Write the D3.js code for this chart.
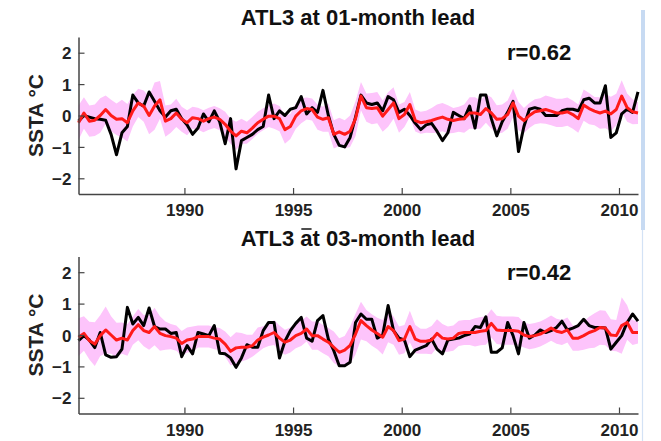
<!DOCTYPE html>
<html><head><meta charset="utf-8">
<script src="https://cdn.jsdelivr.net/npm/d3@7"></script>
<style>
html,body{margin:0;padding:0;background:#fff;}
svg{display:block;font-family:"Liberation Sans",Arial,sans-serif;font-weight:bold;}
</style></head>
<body><svg id="c" width="661" height="441"></svg>
<script>
// time axis: seasonal (3-month) steps
const startYear = 1985.125, stepYear = 0.25;
const xTicks = [1990, 1995, 2000, 2005, 2010];
const yTicks = [-2, -1, 0, 1, 2];
const titles = ["ATL3 at 01-month lead", "ATL3 at 03-month lead"];
const rLabels = ["r=0.62", "r=0.42"];

const topObs = [-0.18,0.0,-0.05,-0.1,-0.12,-0.15,-0.6,-1.25,-0.55,-0.35,
 0.65,0.4,0.3,0.75,0.45,0.15,-0.05,0.15,0.2,-0.1,
 -0.3,-0.6,-0.4,0.05,-0.2,0.15,-0.2,-0.9,-0.1,-1.7,
 -0.8,-0.7,-0.6,-0.45,-0.35,0.65,-0.1,0.15,0.0,0.2,
 0.25,0.6,0.05,0.25,0.1,0.8,0.0,-0.6,-0.95,-1.0,
 -0.7,-0.05,0.65,0.4,0.35,0.4,0.15,0.6,0.5,0.1,
 0.2,0.0,-0.25,-0.45,-0.3,-0.25,-0.5,-0.8,-0.55,0.1,
 0.0,-0.1,0.3,-0.4,0.65,0.65,-0.1,-0.65,-0.2,0.1,
 0.45,-1.15,-0.35,0.2,0.25,0.2,0.0,0.0,0.0,0.15,
 0.2,0.2,0.15,0.5,0.55,0.4,0.4,0.95,-0.7,-0.55,
 0.05,0.2,0.1,0.75];
const topPred = [-0.23,0.08,-0.18,-0.15,0.0,0.19,0.0,-0.12,-0.1,-0.23,
 0.15,0.4,0.3,0.0,0.3,0.5,-0.18,-0.1,0.08,-0.12,
 -0.23,-0.07,-0.1,-0.18,-0.1,-0.05,-0.12,-0.28,-0.5,-0.65,
 -0.5,-0.55,-0.4,-0.23,-0.12,-0.02,-0.02,-0.1,-0.45,-0.35,
 -0.02,0.15,0.22,0.19,-0.05,-0.12,-0.07,-0.6,-0.52,-0.6,
 -0.5,-0.1,0.62,0.25,0.22,0.25,-0.02,0.19,0.4,-0.1,
 0.03,0.35,-0.16,-0.23,-0.2,-0.16,-0.1,-0.05,-0.12,-0.16,
 -0.12,-0.1,0.08,0.08,0.03,0.22,0.08,-0.12,-0.1,0.03,
 0.4,-0.02,-0.16,0.0,0.12,0.15,0.19,0.14,0.08,0.08,
 0.12,0.03,-0.1,0.33,0.22,0.14,0.08,0.14,0.05,0.19,
 0.62,0.25,0.12,0.08];
const topSpread = [0.55,0.5,0.5,0.5,0.55,0.45,0.5,0.5,0.6,0.6,
 0.5,0.45,0.5,0.6,0.75,0.6,0.5,0.45,0.45,0.4,
 0.4,0.35,0.35,0.35,0.35,0.35,0.35,0.4,0.4,0.45,
 0.4,0.35,0.35,0.35,0.35,0.35,0.4,0.4,0.45,0.4,
 0.4,0.4,0.35,0.35,0.4,0.4,0.45,0.45,0.45,0.45,
 0.5,0.55,0.45,0.45,0.5,0.5,0.5,0.55,0.5,0.45,
 0.4,0.4,0.35,0.35,0.35,0.4,0.45,0.45,0.45,0.4,
 0.4,0.45,0.5,0.5,0.45,0.45,0.5,0.45,0.45,0.45,
 0.45,0.45,0.4,0.4,0.4,0.4,0.45,0.45,0.45,0.45,
 0.45,0.45,0.45,0.5,0.5,0.45,0.5,0.55,0.55,0.5,
 0.5,0.45,0.4,0.35];

const botObs = [-0.18,-0.02,-0.16,-0.4,0.08,-0.63,-0.71,-0.69,-0.45,0.88,
 0.35,0.56,0.3,0.86,0.27,0.19,0.19,0.05,0.08,-0.69,
 -0.34,-0.6,0.08,0.03,-0.02,0.3,-0.58,-0.6,-0.73,-1.03,
 -0.73,-0.31,-0.39,-0.39,0.14,0.4,0.4,-0.73,-0.2,0.14,
 0.37,0.56,-0.1,-0.2,0.46,0.62,-0.13,-0.5,-0.98,-0.98,
 -0.87,0.4,0.67,0.5,0.5,-0.1,0.0,0.94,0.14,-0.1,
 -0.16,-0.69,-0.48,-0.41,-0.34,-0.13,-0.45,-0.6,-0.16,-0.13,
 -0.1,-0.02,0.03,0.27,0.24,0.58,-0.55,-0.55,-0.41,0.4,
 -0.02,-0.6,0.4,-0.1,0.0,0.16,0.08,0.14,0.24,0.44,
 0.16,0.22,0.3,0.5,0.3,0.24,0.24,0.22,-0.45,-0.23,
 -0.02,0.4,0.67,0.44];
const botPred = [-0.07,0.05,-0.18,-0.29,-0.02,0.16,0.0,-0.16,-0.1,-0.16,
 0.14,0.33,0.14,0.08,0.27,0.05,-0.02,-0.05,-0.1,-0.27,
 -0.16,-0.13,-0.05,-0.05,-0.05,-0.1,-0.13,-0.29,-0.52,-0.41,
 -0.39,-0.39,-0.34,-0.16,-0.07,0.0,0.08,-0.1,-0.23,-0.16,
 -0.02,0.05,0.19,-0.02,-0.02,-0.13,-0.23,-0.39,-0.55,-0.48,
 -0.33,0.03,0.46,0.3,0.16,0.05,-0.07,0.27,0.14,-0.18,
 -0.13,0.27,-0.13,-0.2,-0.2,-0.16,0.05,-0.1,-0.13,-0.1,
 0.05,0.08,0.08,0.08,0.12,0.14,0.37,0.16,0.14,0.14,
 0.14,0.12,0.0,-0.05,-0.02,0.03,0.12,0.22,0.12,0.08,
 0.16,-0.1,-0.1,-0.02,0.08,0.14,0.24,0.22,0.0,-0.02,
 0.3,0.4,0.08,0.08];
const botSpread = [0.6,0.55,0.6,0.7,0.65,0.75,0.6,0.55,0.5,0.5,
 0.45,0.5,0.5,0.55,0.6,0.55,0.45,0.4,0.4,0.4,
 0.4,0.4,0.35,0.35,0.35,0.35,0.35,0.4,0.45,0.5,
 0.45,0.4,0.35,0.4,0.35,0.35,0.4,0.4,0.4,0.4,
 0.4,0.4,0.4,0.45,0.45,0.45,0.45,0.5,0.45,0.45,
 0.6,0.65,0.6,0.5,0.5,0.5,0.55,0.5,0.45,0.45,
 0.45,0.5,0.45,0.4,0.4,0.45,0.45,0.45,0.4,0.4,
 0.4,0.4,0.4,0.45,0.45,0.45,0.45,0.45,0.45,0.45,
 0.45,0.45,0.4,0.4,0.4,0.4,0.4,0.4,0.4,0.4,
 0.4,0.4,0.4,0.45,0.5,0.55,0.55,0.55,0.5,0.5,
 0.9,0.55,0.4,0.35];

const svg = d3.select("#c");
const W = 661;
const left = 78.5, right = 638;
const x = d3.scaleLinear().domain([startYear, startYear + stepYear*(topObs.length-1)]).range([left, right]);

// right-hand light blue strip
svg.append("rect").attr("x",641).attr("y",10).attr("width",4).attr("height",220).attr("fill","#c7daf2");
svg.append("line").attr("x1",642.5).attr("x2",642.5).attr("y1",230).attr("y2",441).attr("stroke","#d3e2f5").attr("stroke-width",1.2);

const panels = [
  {obs: topObs, pred: topPred, spread: topSpread, top: 37, bottom: 194, title: titles[0], r: rLabels[0], titleY: 25, rY: 60, overline: false},
  {obs: botObs, pred: botPred, spread: botSpread, top: 256.5, bottom: 413.5, title: titles[1], r: rLabels[1], titleY: 246, rY: 280, overline: true}
];

panels.forEach(p => {
  const y = d3.scaleLinear().domain([-2.5, 2.5]).range([p.bottom, p.top]);
  const g = svg.append("g");
  const data = p.obs.map((v,i) => ({t: startYear + i*stepYear, o: v, m: p.pred[i], s: p.spread[i]}));

  g.append("path").datum(data)
    .attr("d", d3.area().x(d => x(d.t)).y0(d => y(d.m - d.s)).y1(d => y(d.m + d.s)))
    .attr("fill", "#fdc4fb");
  g.append("path").datum(data)
    .attr("d", d3.line().x(d => x(d.t)).y(d => y(d.o)))
    .attr("fill","none").attr("stroke","#000").attr("stroke-width",3).attr("stroke-linejoin","round");
  g.append("path").datum(data)
    .attr("d", d3.line().x(d => x(d.t)).y(d => y(d.m)))
    .attr("fill","none").attr("stroke","#ff1a1a").attr("stroke-width",3).attr("stroke-linejoin","round");

  const ya = g.append("g").attr("transform", `translate(${left},0)`)
    .call(d3.axisLeft(y).tickValues(yTicks).tickSizeInner(-6).tickSizeOuter(0).tickPadding(7).tickFormat(d3.format("d")));
  const xa = g.append("g").attr("transform", `translate(0,${p.bottom})`)
    .call(d3.axisBottom(x).tickValues(xTicks).tickSizeInner(-6).tickSizeOuter(0).tickPadding(10).tickFormat(d3.format("d")));
  [ya, xa].forEach(a => {
    a.select(".domain").attr("stroke","#444").attr("stroke-width",1.5);
    a.selectAll(".tick line").attr("stroke","#444").attr("stroke-width",1.2);
    a.selectAll(".tick text").attr("fill","#222").style("font-size","17px").style("font-weight","bold")
      .style("font-family","'Liberation Sans',Arial,sans-serif");
  });
  ya.selectAll(".tick text").attr("dy","0.36em");

  const tt = g.append("text").attr("x", 358).attr("y", p.titleY).attr("text-anchor","middle")
    .attr("fill","#111").style("font-size","22px").text(p.title);
  if (p.overline) {
    const node = tt.node();
    const idx = p.title.indexOf(" at ") + 1;
    const s = node.getStartPositionOfChar(idx), e = node.getEndPositionOfChar(idx);
    g.append("line").attr("x1", s.x + 1).attr("x2", e.x - 1)
      .attr("y1", p.titleY - 17).attr("y2", p.titleY - 17).attr("stroke","#222").attr("stroke-width",1.6);
  }
  g.append("text").attr("x", 507).attr("y", p.rY).attr("fill","#111").style("font-size","22px").text(p.r);

  g.append("text").attr("transform", `translate(43,${(p.top+p.bottom)/2}) rotate(-90)`)
    .attr("text-anchor","middle").attr("fill","#222").style("font-size","21px").text("SSTA °C");
});
</script></body></html>
